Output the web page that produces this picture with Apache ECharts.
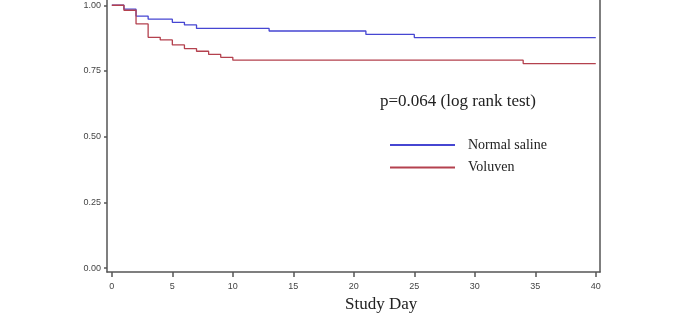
<!DOCTYPE html>
<html>
<head>
<meta charset="utf-8">
<script src="https://cdn.jsdelivr.net/npm/echarts@6/dist/echarts.min.js"></script>
<style>
  html, body { margin: 0; padding: 0; background: #fff; }
  #chart { width: 685px; height: 313px; }
</style>
</head>
<body>
<div id="chart"></div>
<script>
// Kaplan-Meier steps: [day, survival after that day]
const salineDays = [0, 1, 2, 3, 5, 6, 7, 13, 21, 25, 40];
const salineSurv = [1.0, 0.985, 0.959, 0.947, 0.935, 0.925, 0.912, 0.902, 0.889, 0.877, 0.877];
const voluvenDays = [0, 1, 2, 3, 4, 5, 6, 7, 8, 9, 10, 34, 40];
const voluvenSurv = [1.0, 0.981, 0.929, 0.878, 0.868, 0.849, 0.835, 0.825, 0.813, 0.802, 0.791, 0.778, 0.778];
const xTicks = [0, 5, 10, 15, 20, 25, 30, 35, 40];
const yTicks = [0, 0.25, 0.5, 0.75, 1.0];

const pairs = (xs, ys) => xs.map((x, i) => [x, ys[i]]);

const axisColor = "#555";
const serif = "'Liberation Serif', 'DejaVu Serif', serif";

const myChart = echarts.init(document.getElementById("chart"));
myChart.setOption({
  animation: false,
  backgroundColor: "#fff",
  grid: {
    left: 107,
    right: 85,
    top: 0,
    bottom: 41,
  },
  legend: {
    orient: "vertical",
    left: 385,
    top: 133,
    icon: "rect",
    itemWidth: 65,
    itemHeight: 2,
    itemGap: 8.5,
    textStyle: {
      fontFamily: serif,
      fontSize: 14,
      color: "#222",
      padding: [0, 0, 0, 8],
    },
    data: ["Normal saline", "Voluven"],
  },
  xAxis: {
    type: "value",
    min: -0.4,
    max: 40.35,
    splitLine: { show: false },
    axisLine: { onZero: false, lineStyle: { color: axisColor, width: 1.5 } },
    axisTick: {
      customValues: xTicks,
      length: 5,
      lineStyle: { color: axisColor, width: 1.5 },
    },
    axisLabel: {
      customValues: xTicks,
      fontFamily: "'Liberation Sans', Arial, sans-serif",
      fontSize: 9,
      color: "#444",
      margin: 10,
    },
  },
  yAxis: [
    {
      type: "value",
      min: -0.015,
      max: 1.02,
      splitLine: { show: false },
      axisLine: { show: true, onZero: false, lineStyle: { color: axisColor, width: 1.5 } },
      axisTick: {
        show: true,
        customValues: yTicks,
        length: 3,
        lineStyle: { color: axisColor, width: 1.5 },
      },
      axisLabel: {
        customValues: yTicks,
        formatter: (v) => v.toFixed(2),
        fontFamily: "'Liberation Sans', Arial, sans-serif",
        fontSize: 9,
        color: "#444",
        margin: 6,
      },
    },
    {
      type: "value",
      position: "right",
      min: -0.015,
      max: 1.02,
      splitLine: { show: false },
      axisLine: { show: true, onZero: false, lineStyle: { color: axisColor, width: 1.5 } },
      axisTick: { show: false },
      axisLabel: { show: false },
    },
  ],
  graphic: [
    {
      type: "text",
      left: 380,
      top: 93,
      style: {
        text: "p=0.064 (log rank test)",
        font: "17px " + serif,
        fill: "#222",
      },
    },
    {
      type: "text",
      left: 345,
      top: 296,
      style: {
        text: "Study Day",
        font: "17px " + serif,
        fill: "#222",
      },
    },
  ],
  series: [
    {
      name: "Normal saline",
      type: "line",
      step: "end",
      showSymbol: false,
      itemStyle: { color: "#4646d2" },
      lineStyle: { color: "#4646d2", width: 1.3 },
      data: pairs(salineDays, salineSurv),
    },
    {
      name: "Voluven",
      type: "line",
      step: "end",
      showSymbol: false,
      itemStyle: { color: "#b4414e" },
      lineStyle: { color: "#b4414e", width: 1.3 },
      data: pairs(voluvenDays, voluvenSurv),
    },
  ],
});
</script>
</body>
</html>
